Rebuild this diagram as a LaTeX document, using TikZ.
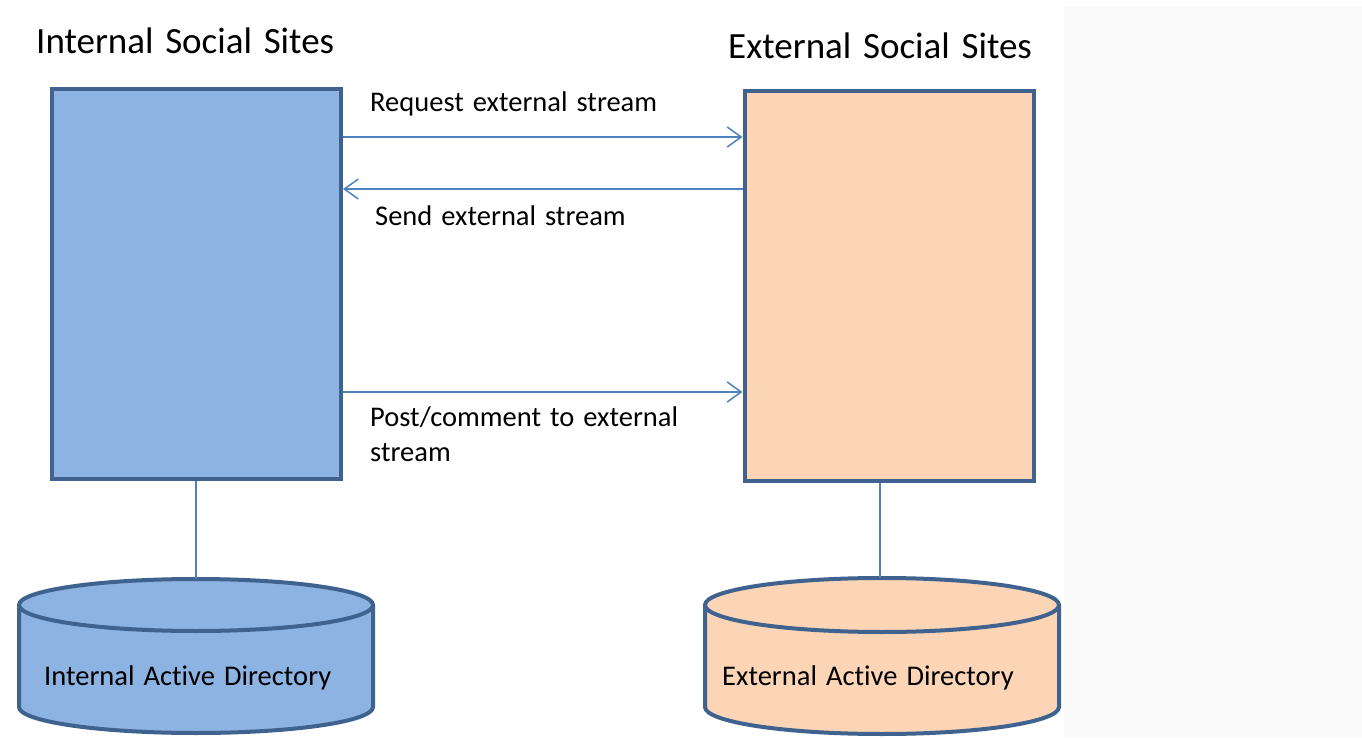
\documentclass[tikz,border=0pt]{standalone}
\usepackage{fontspec}
\setmainfont{Carlito}[Ligatures=NoCommon, WordSpace=1.4]
\usetikzlibrary{positioning,arrows.meta,calc}

\definecolor{intfill}{HTML}{8DB3E2}
\definecolor{extfill}{HTML}{FBD5B5}
\definecolor{frame}{HTML}{3F628F}
\definecolor{flowline}{HTML}{4F81BD}
\definecolor{pagegray}{HTML}{FAFAFA}

\tikzset{
  site/.style={draw=frame, line width=4pt, inner sep=0pt, minimum width=289pt, minimum height=390pt},
  flow/.style={draw=flowline, line width=1.5pt, -{Straight Barb[length=14pt,width=20pt,line width=1.5pt]}},
  link/.style={draw=flowline, line width=1.5pt},
  db/.style={draw=frame, line width=4pt},
  title/.style={anchor=west, inner sep=0pt, font=\fontsize{37}{44}\selectfont},
  lbl/.style={anchor=west, inner sep=0pt, align=left, font=\fontsize{28.5}{35}\selectfont}
}

\begin{document}
\begin{tikzpicture}[x=1pt, y=1pt]
      \useasboundingbox (0,0) rectangle (1362,737);
      \fill[pagegray] (1064,0) rectangle (1362,731);
      % titles
      \node[title] (inttitle) at (36,696) {Internal Social Sites};
      \node[title] (exttitle) at (728,691) {External Social Sites};
      % the two sites
      \node[site, fill=intfill] (intsite) at (196.5,453) {};
      \node[site, fill=extfill] (extsite) at (889,451) {};
      % messages
      \draw[flow] ([yshift=-50pt]intsite.north east) coordinate (req) -- (req -| extsite.west);
      \draw[flow] ([yshift=-100pt]extsite.north west) coordinate (snd) -- (snd -| intsite.east);
      \draw[flow] ([yshift=89pt]intsite.south east) coordinate (pst) -- (pst -| extsite.west);
      \node[lbl] (reqlbl) at (370,633) {Request external stream};
      \node[lbl] (sndlbl) at (375,521) {Send external stream};
      \node[lbl] (pstlbl) at (370,302.5) {Post/comment to external\\stream};
      % directories
      \filldraw[db, fill=intfill] (19,132) -- (19,30) arc[start angle=180, end angle=360, x radius=177, y radius=26]
        -- (373,132) arc[start angle=0, end angle=360, x radius=177, y radius=26];
      \filldraw[db, fill=extfill] (705,132) -- (705,30) arc[start angle=180, end angle=360, x radius=177, y radius=27]
        -- (1059,132) arc[start angle=0, end angle=360, x radius=177, y radius=27];
      \coordinate (intdir) at (196,158);
      \coordinate (extdir) at (880,159);
      \node[lbl] (intdirlbl) at (44,59) {Internal Active Directory};
      \node[lbl] (extdirlbl) at (722,59) {External Active Directory};
      \draw[link] (intsite.south -| intdir) -- (intdir);
      \draw[link] (extsite.south -| extdir) -- (extdir);
    \end{tikzpicture}
\end{document}
